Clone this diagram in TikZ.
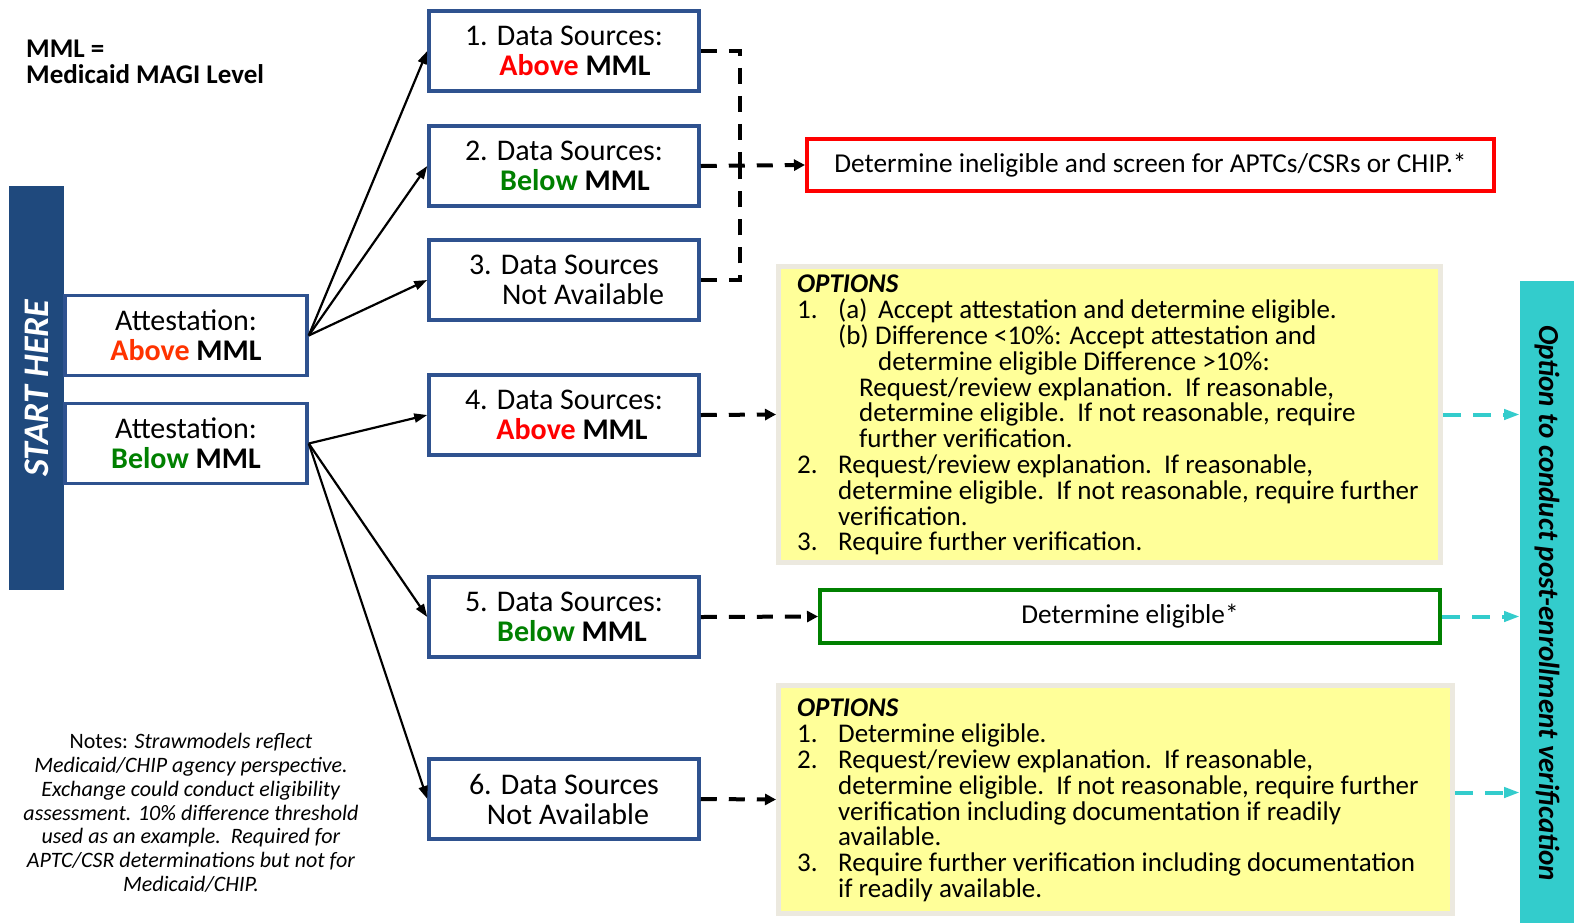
\documentclass[tikz,border=0pt]{standalone}
\usepackage{fontspec}
\setmainfont{Carlito}
\usetikzlibrary{arrows.meta,calc}

\definecolor{boxblue}{RGB}{47,82,143}
\definecolor{startblue}{RGB}{31,73,125}
\definecolor{dsred}{RGB}{255,0,0}
\definecolor{attred}{RGB}{255,51,0}
\definecolor{dsgreen}{RGB}{0,128,0}
\definecolor{yel}{RGB}{255,255,153}
\definecolor{yelborder}{RGB}{236,233,223}
\definecolor{vcyan}{RGB}{51,204,204}

\begin{document}
\begin{tikzpicture}[x=1pt,y=-1pt,
  dsbox/.style={draw=boxblue, line width=3.5pt, fill=white, minimum width=270pt,
    minimum height=80pt, inner sep=0pt, align=center, font=\fontsize{30}{30}\selectfont},
  attbox/.style={dsbox, minimum width=242pt},
  flow/.style={-{Triangle[length=13pt,width=9pt]}, line width=2.2pt},
  dashline/.style={line width=4pt, dash pattern=on 16pt off 12pt},
  dasharrow/.style={dashline, -{Triangle[length=11pt,width=11pt]}},
  cyanarrow/.style={draw=vcyan, line width=4pt, dash pattern=on 18pt off 12pt,
    -{Triangle[length=16pt,width=10pt]}},
  optbox/.style={fill=yel, draw=yelborder, line width=5pt, inner sep=0pt},
  opttext/.style={anchor=north west, align=left, inner sep=0pt,
    font=\fontsize{27}{25.8}\selectfont},
  resultbox/.style={line width=4pt, fill=white, inner sep=0pt,
    font=\fontsize{27.3}{27}\selectfont}]

\useasboundingbox (0,0) rectangle (1574,922);

% key
\node[anchor=north west, align=left, inner sep=0pt,
  font=\bfseries\fontsize{27}{26}\selectfont] (key) at (26,40) {MML =\\Medicaid MAGI Level};

% start bar and attestations
\node[fill=startblue, minimum width=55pt, minimum height=404pt, inner sep=0pt] (startbar) at (36.5,388) {};
\node[rotate=90, text=white, font=\bfseries\itshape\fontsize{36}{36}\selectfont] (starttxt)
  at (startbar.center) {START HERE};

\node[attbox] (attA) at (186,335.5) {Attestation:\\\textbf{\textcolor{attred}{Above} MML}};
\node[attbox] (attB) at (186,443.5) {Attestation:\\\textbf{\textcolor{dsgreen}{Below} MML}};

% data source boxes
\node[dsbox] (ds1) at (564,51)  {1. Data Sources:\\\hspace*{22pt}\textbf{\textcolor{dsred}{Above} MML}};
\node[dsbox] (ds2) at (564,166) {2. Data Sources:\\\hspace*{22pt}\textbf{\textcolor{dsgreen}{Below} MML}};
\node[dsbox] (ds3) at (564,280) {3. Data Sources\\\hspace*{38pt}Not Available};
\node[dsbox] (ds4) at (564,415) {4. Data Sources:\\\hspace*{16pt}\textbf{\textcolor{dsred}{Above} MML}};
\node[dsbox] (ds5) at (564,617) {5. Data Sources:\\\hspace*{16pt}\textbf{\textcolor{dsgreen}{Below} MML}};
\node[dsbox] (ds6) at (564,799) {6. Data Sources\\\hspace*{8pt}Not Available};

% outcomes
\node[resultbox, draw=dsred, minimum width=687pt, minimum height=52pt] (inel) at (1150.5,165)
  {Determine ineligible and screen for APTCs/CSRs or CHIP.*};
\node[resultbox, draw=dsgreen, minimum width=620pt, minimum height=53pt] (elig) at (1130,616.5)
  {Determine eligible*};

\node[optbox, minimum width=662pt, minimum height=296pt] (opt1) at (1109.5,414.5) {};
\node[opttext] (opt1txt) at (797,275) {%
\textbf{\textit{OPTIONS}}\\
\makebox[41pt][l]{1.}\makebox[40pt][l]{(a)}Accept attestation and determine eligible.\\
\hspace*{41pt}\makebox[37pt][l]{(b)}Difference <10\%: Accept attestation and\\
\hspace*{81pt}determine eligible Difference >10\%:\\
\hspace*{62pt}Request/review explanation.\ \ If reasonable,\\
\hspace*{62pt}determine eligible.\ \ If not reasonable, require\\
\hspace*{62pt}further verification.\\
\makebox[41pt][l]{2.}Request/review explanation.\ \ If reasonable,\\
\hspace*{41pt}determine eligible.\ \ If not reasonable, require further\\
\hspace*{41pt}verification.\\
\makebox[41pt][l]{3.}Require further verification.};

\node[optbox, minimum width=674pt, minimum height=228pt] (opt2) at (1115.5,799.5) {};
\node[opttext] (opt2txt) at (797,699) {%
\textbf{\textit{OPTIONS}}\\
\makebox[41pt][l]{1.}Determine eligible.\\
\makebox[41pt][l]{2.}Request/review explanation.\ \ If reasonable,\\
\hspace*{41pt}determine eligible.\ \ If not reasonable, require further\\
\hspace*{41pt}verification including documentation if readily\\
\hspace*{41pt}available.\\
\makebox[41pt][l]{3.}Require further verification including documentation\\
\hspace*{41pt}if readily available.};

% post-enrollment bar
\node[fill=vcyan, minimum width=54pt, minimum height=642pt, inner sep=0pt, anchor=north west]
  (vbar) at (1520,281) {};
\node[rotate=-90, font=\bfseries\itshape\fontsize{29}{29}\selectfont] (vbartxt) at (1547,603)
  {Option to conduct post-enrollment verification};

% notes
\node[align=center, inner sep=0pt, font=\fontsize{22}{23.8}\selectfont] (notes) at (191,813) {%
Notes: \textit{Strawmodels reflect}\\
\textit{Medicaid/CHIP agency perspective.}\\
\textit{Exchange could conduct eligibility}\\
\textit{assessment. 10\% difference threshold}\\
\textit{used as an example.\ \ Required for}\\
\textit{APTC/CSR determinations but not for}\\
\textit{Medicaid/CHIP.}};

% attestation branches
\draw[flow] (attA.east) -- (ds1.west);
\draw[flow] (attA.east) -- (ds2.west);
\draw[flow] (attA.east) -- (ds3.west);
\draw[flow] (attB.east) -- (ds4.west);
\draw[flow] (attB.east) -- (ds5.west);
\draw[flow] (attB.east) -- (ds6.west);

% data source outcomes: boxes 1 and 3 joined by a dashed bracket
\coordinate (jog) at (740,280);
\coordinate (jmid) at (740,165);
\draw[dashline] (ds1.east) -| (jmid);
\draw[dashline] (ds3.east) -| (jmid);
\draw[dasharrow] (ds2.east) -- (inel.west);
\draw[dasharrow] (ds4.east) -- (opt1.west);
\draw[dasharrow] (ds5.east) -- (elig.west);
\draw[dasharrow] (ds6.east) -- (opt2.west);

% post-enrollment links
\coordinate (o2out) at ([yshift=7pt]opt2.east);
\draw[cyanarrow] (opt1.east) -- (vbar.west |- opt1.east);
\draw[cyanarrow] (elig.east) -- (vbar.west |- elig.east);
\draw[cyanarrow] (o2out) -- (vbar.west |- o2out);

\end{tikzpicture}
\end{document}
